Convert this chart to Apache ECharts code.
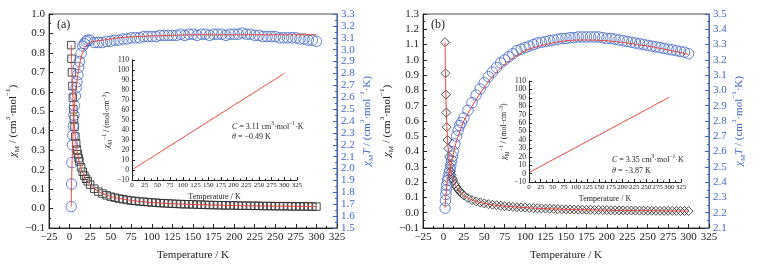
<!DOCTYPE html>
<html>
<head>
<meta charset="utf-8">
<script src="https://cdn.jsdelivr.net/npm/echarts@6/dist/echarts.min.js"></script>
<style>
html, body { margin: 0; padding: 0; background: #fff; }
#chart { width: 758px; height: 266px; }
</style>
</head>
<body>
<div id="chart"></div>
<script>
// (a) 测量数据
const tempA = [2, 2.4, 2.9, 3.5, 4, 4.6, 5.3, 6, 7, 8, 9, 10, 11, 12, 14, 16, 18, 20, 22, 25,
  30, 35, 40, 45, 50, 55, 60, 65, 70, 75, 80, 85, 90, 95, 100, 105, 110, 115, 120, 125,
  130, 135, 140, 145, 150, 155, 160, 165, 170, 175, 180, 185, 190, 195, 200, 205, 210, 215, 220, 225,
  230, 235, 240, 245, 250, 255, 260, 265, 270, 275, 280, 285, 290, 295, 300]
const chiA = [0.84, 0.77, 0.70, 0.63, 0.57, 0.51, 0.46, 0.42, 0.37, 0.335, 0.303, 0.279, 0.259, 0.242, 0.212, 0.189, 0.169, 0.153, 0.140, 0.123,
  0.102, 0.087, 0.077, 0.068, 0.061, 0.056, 0.051, 0.048, 0.044, 0.041, 0.039, 0.036, 0.035, 0.033, 0.031, 0.030, 0.028, 0.027, 0.026, 0.025,
  0.024, 0.023, 0.022, 0.022, 0.021, 0.020, 0.020, 0.019, 0.018, 0.018, 0.017, 0.017, 0.016, 0.016, 0.016, 0.015, 0.015, 0.015, 0.014, 0.014,
  0.014, 0.013, 0.013, 0.013, 0.012, 0.012, 0.012, 0.012, 0.011, 0.011, 0.011, 0.011, 0.011, 0.010, 0.010]
const chiTA = [1.68, 1.87, 2.05, 2.20, 2.28, 2.36, 2.45, 2.53, 2.61, 2.68, 2.73, 2.79, 2.85, 2.90, 2.97, 3.03, 3.05, 3.07, 3.08, 3.08,
  3.06, 3.06, 3.06, 3.07, 3.07, 3.08, 3.08, 3.09, 3.09, 3.10, 3.10, 3.10, 3.11, 3.11, 3.11, 3.11, 3.12, 3.12, 3.12, 3.12,
  3.12, 3.13, 3.12, 3.13, 3.13, 3.12, 3.13, 3.13, 3.12, 3.13, 3.13, 3.13, 3.12, 3.13, 3.13, 3.13, 3.14, 3.13, 3.13, 3.12,
  3.12, 3.11, 3.11, 3.11, 3.11, 3.10, 3.10, 3.10, 3.10, 3.10, 3.09, 3.09, 3.08, 3.08, 3.07]
// (a) 拟合
const fitTempA = [2, 2.5, 3, 3.5, 4, 5, 6, 7, 8, 10, 12, 15, 20, 25, 30, 40, 50, 60, 80, 100, 125, 150, 200, 250, 300]
const fitChiA = [0.84, 0.76, 0.68, 0.62, 0.57, 0.48, 0.42, 0.37, 0.33, 0.275, 0.237, 0.195, 0.150, 0.122, 0.102, 0.077, 0.062, 0.052, 0.039, 0.031, 0.025, 0.021, 0.0156, 0.0125, 0.0104]
const fitChiTA = [1.68, 1.90, 2.04, 2.17, 2.27, 2.42, 2.53, 2.62, 2.68, 2.79, 2.87, 2.96, 3.03, 3.06, 3.07, 3.08, 3.09, 3.10, 3.11, 3.115, 3.12, 3.125, 3.125, 3.125, 3.125]
const invTempA = [2, 50, 100, 150, 200, 250, 300]
const invChiA = [0.80, 16.2, 32.3, 48.4, 64.5, 80.5, 96.6]

// (b) 测量数据
const tempB = [2, 2.5, 3, 3.5, 4, 5, 6, 7, 8, 9, 10, 11, 12, 14, 16, 18, 20, 22, 25,
  30, 35, 40, 45, 50, 55, 60, 65, 70, 75, 80, 85, 90, 95, 100, 105, 110, 115, 120, 125,
  130, 135, 140, 145, 150, 155, 160, 165, 170, 175, 180, 185, 190, 195, 200, 205, 210, 215, 220, 225,
  230, 235, 240, 245, 250, 255, 260, 265, 270, 275, 280, 285, 290, 295, 300]
const chiB = [1.115, 0.912, 0.773, 0.655, 0.56, 0.475, 0.42, 0.365, 0.31, 0.27, 0.245, 0.225, 0.212, 0.189, 0.169, 0.152, 0.139, 0.127, 0.113,
  0.096, 0.083, 0.0745, 0.067, 0.061, 0.056, 0.052, 0.049, 0.046, 0.043, 0.040, 0.038, 0.036, 0.035, 0.033, 0.031, 0.030, 0.029, 0.028, 0.027,
  0.026, 0.025, 0.024, 0.023, 0.022, 0.022, 0.021, 0.020, 0.020, 0.019, 0.019, 0.018, 0.018, 0.017, 0.017, 0.016, 0.016, 0.0155, 0.015, 0.015,
  0.0144, 0.014, 0.0138, 0.0135, 0.013, 0.013, 0.0126, 0.0124, 0.012, 0.012, 0.0117, 0.0114, 0.0112, 0.011, 0.0108]
const chiTB = [2.23, 2.28, 2.32, 2.35, 2.38, 2.41, 2.43, 2.46, 2.48, 2.51, 2.54, 2.57, 2.60, 2.65, 2.70, 2.74, 2.77, 2.79, 2.82,
  2.87, 2.92, 2.97, 3.01, 3.05, 3.09, 3.12, 3.15, 3.18, 3.20, 3.22, 3.24, 3.26, 3.27, 3.28, 3.29, 3.30, 3.31, 3.315, 3.32,
  3.325, 3.33, 3.335, 3.34, 3.34, 3.345, 3.345, 3.35, 3.35, 3.35, 3.35, 3.35, 3.35, 3.345, 3.34, 3.34, 3.335, 3.33, 3.325, 3.32,
  3.315, 3.31, 3.305, 3.30, 3.295, 3.29, 3.285, 3.28, 3.275, 3.27, 3.265, 3.26, 3.255, 3.25, 3.24]
// (b) 拟合
const fitTempB = [2, 2.5, 3, 4, 5, 6, 8, 10, 12, 15, 20, 25, 30, 40, 50, 60, 75, 100, 125, 150, 175, 200, 225, 250, 275, 300]
const fitChiB = [1.115, 0.91, 0.77, 0.59, 0.48, 0.405, 0.31, 0.252, 0.214, 0.175, 0.137, 0.112, 0.095, 0.074, 0.061, 0.052, 0.043, 0.033, 0.0266, 0.0223, 0.0191, 0.0167, 0.0148, 0.0132, 0.0119, 0.0108]
const fitChiTB = [2.23, 2.27, 2.31, 2.37, 2.41, 2.44, 2.49, 2.53, 2.58, 2.65, 2.73, 2.80, 2.85, 2.94, 3.02, 3.09, 3.17, 3.26, 3.30, 3.325, 3.33, 3.325, 3.31, 3.29, 3.265, 3.235]
const invTempB = [2, 50, 100, 150, 200, 250, 300]
const invChiB = [1.75, 16.1, 31.0, 45.9, 60.9, 75.8, 90.7]

const FONT = 'Liberation Serif'
const BLUE = '#3d65c8'
const RED = '#e8453c'
const minus = (s) => String(s).replace('-', '\u2212')
const pairs = (xs, ys) => xs.map((x, i) => [x, ys[i]])

const rich = {
  i: { fontFamily: FONT, fontStyle: 'italic', fontSize: 11, lineHeight: 16 },
  n: { fontFamily: FONT, fontSize: 11, lineHeight: 16 },
  sub: { fontFamily: FONT, fontSize: 7, verticalAlign: 'bottom', lineHeight: 10 },
  sup: { fontFamily: FONT, fontSize: 7, verticalAlign: 'top', lineHeight: 10 }
}
const richSmall = {
  i: { fontFamily: FONT, fontStyle: 'italic', fontSize: 8, lineHeight: 12 },
  n: { fontFamily: FONT, fontSize: 8, lineHeight: 12 },
  sub: { fontFamily: FONT, fontSize: 5.5, verticalAlign: 'bottom', lineHeight: 8 },
  sup: { fontFamily: FONT, fontSize: 5.5, verticalAlign: 'top', lineHeight: 8 }
}

// 主图x轴
const mainX = (grid) => ({
  type: 'value', gridIndex: grid, min: -25, max: 325, interval: 25,
  name: 'Temperature / K', nameLocation: 'middle', nameGap: 22,
  nameTextStyle: { fontFamily: FONT, fontSize: 11, color: '#222' },
  axisLine: { onZero: false, lineStyle: { color: '#222' } },
  axisTick: { inside: true, length: 4, lineStyle: { color: '#222' } },
  minorTick: { show: true, splitNumber: 2, length: 2, lineStyle: { color: '#222' } },
  axisLabel: { fontFamily: FONT, fontSize: 11, color: '#222', margin: 4, formatter: minus },
  splitLine: { show: false }
})
// 主图y轴
const mainY = (grid, min, max, right, gap) => ({
  type: 'value', gridIndex: grid, min: min, max: max, interval: 0.1,
  position: right ? 'right' : 'left',
  name: right ? '{i|χ}{sub|M}{i|T}{n| / (cm}{sup|3}{n|·mol}{sup|−1}{n|·K)}' : '{i|χ}{sub|M}{n| / (cm}{sup|3}{n|·mol}{sup|−1}{n|)}',
  nameLocation: 'middle', nameRotate: 90, nameGap: gap,
  nameTextStyle: { color: right ? BLUE : '#222', rich: rich },
  axisLine: { show: true, onZero: false, lineStyle: { color: right ? BLUE : '#222' } },
  axisTick: { inside: true, length: 4, lineStyle: { color: right ? BLUE : '#222' } },
  minorTick: { show: true, splitNumber: 2, length: 2, lineStyle: { color: right ? BLUE : '#222' } },
  axisLabel: { fontFamily: FONT, fontSize: 11, color: right ? BLUE : '#222', margin: 4, formatter: (v) => minus(v.toFixed(1)) },
  splitLine: { show: false }
})
// 插图坐标轴
const insetX = (grid) => ({
  type: 'value', gridIndex: grid, min: 0, max: 325, interval: 25,
  name: 'Temperature / K', nameLocation: 'middle', nameGap: 13,
  nameTextStyle: { fontFamily: FONT, fontSize: 8, color: '#222' },
  axisLine: { onZero: false, lineStyle: { color: '#222' } },
  axisTick: { inside: true, length: 3, lineStyle: { color: '#222' } },
  minorTick: { show: true, splitNumber: 2, length: 1.5, lineStyle: { color: '#222' } },
  axisLabel: { fontFamily: FONT, fontSize: 7, color: '#222', margin: 2 },
  splitLine: { show: false }
})
const insetY = (grid, gap) => ({
  type: 'value', gridIndex: grid, min: -10, max: 110, interval: 10,
  name: '{i|χ}{sub|M}{sup|−1}{n| / (mol·cm}{sup|−3}{n|)}', nameLocation: 'middle', nameGap: gap,
  nameTextStyle: { color: '#222', rich: richSmall },
  axisLine: { show: true, onZero: false, lineStyle: { color: '#222' } },
  axisTick: { inside: true, length: 3, lineStyle: { color: '#222' } },
  minorTick: { show: true, splitNumber: 2, length: 1.5, lineStyle: { color: '#222' } },
  axisLabel: { fontFamily: FONT, fontSize: 7.5, color: '#222', margin: 3, formatter: minus },
  splitLine: { show: false }
})

const scatter = (x, y, data, symbol, size, color, z) => ({
  type: 'scatter', xAxisIndex: x, yAxisIndex: y, data: data, symbol: symbol, symbolSize: size, z: z,
  itemStyle: { color: 'transparent', borderColor: color, borderWidth: 1 }
})
const fitLine = (x, y, data) => ({
  type: 'line', xAxisIndex: x, yAxisIndex: y, data: data, smooth: 0.3, showSymbol: false, z: 5,
  lineStyle: { color: RED, width: 1 }
})

const noteText = (x, y, s) => ({
  type: 'text', left: x, top: y, z: 10,
  style: { text: s, fontFamily: FONT, fontSize: 8, fill: '#222', rich: richSmall }
})

const chart = echarts.init(document.getElementById('chart'))
const option = {
  animation: false,
  backgroundColor: '#fff',
  grid: [
    { left: 49, top: 14, width: 288, height: 216, show: true, borderColor: '#444', borderWidth: 1 },
    { left: 132, top: 60, width: 165, height: 120 },
    { left: 423, top: 14, width: 286, height: 216, show: true, borderColor: '#444', borderWidth: 1 },
    { left: 529, top: 81, width: 152, height: 101 }
  ],
  xAxis: [mainX(0), insetX(1), mainX(2), insetX(3)],
  yAxis: [
    mainY(0, -0.1, 1.0, false, 20),
    mainY(0, 1.5, 3.3, true, 20),
    insetY(1, 14),
    mainY(2, -0.1, 1.3, false, 18),
    mainY(2, 2.1, 3.5, true, 19),
    insetY(3, 13)
  ],
  series: [
    scatter(0, 0, pairs(tempA, chiA), 'rect', 7.5, '#222', 2),
    scatter(0, 1, pairs(tempA, chiTA), 'circle', 10.5, BLUE, 3),
    fitLine(0, 0, pairs(fitTempA, fitChiA)),
    fitLine(0, 1, pairs(fitTempA, fitChiTA)),
    fitLine(1, 2, pairs(invTempA, invChiA)),
    scatter(2, 3, pairs(tempB, chiB), 'diamond', 9, '#222', 2),
    scatter(2, 4, pairs(tempB, chiTB), 'circle', 10.5, BLUE, 3),
    fitLine(2, 3, pairs(fitTempB, fitChiB)),
    fitLine(2, 4, pairs(fitTempB, fitChiTB)),
    fitLine(3, 5, pairs(invTempB, invChiB))
  ],
  graphic: [
    { type: 'text', left: 57, top: 19, style: { text: '(a)', fontFamily: FONT, fontSize: 12, fill: '#222' } },
    { type: 'text', left: 431, top: 19, style: { text: '(b)', fontFamily: FONT, fontSize: 12, fill: '#222' } },
    noteText(232, 121, '{i|C}{n| = 3.11 cm}{sup|3}{n|·mol}{sup|−1}{n|·K}'),
    noteText(232, 133, '{i|θ}{n| = −0.49 K}'),
    noteText(612, 154, '{i|C}{n| = 3.35 cm}{sup|3}{n|·mol}{sup|−1}{n|·K}'),
    noteText(612, 167, '{i|θ}{n| = −3.87 K}')
  ]
}
chart.setOption(option)
window.addEventListener('resize', function () {
  chart.resize()
})
</script>
</body>
</html>
